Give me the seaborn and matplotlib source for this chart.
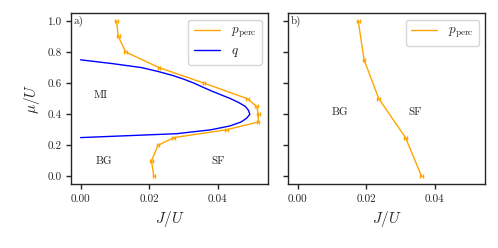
import numpy as np
import matplotlib
matplotlib.use("Agg")
import matplotlib.pyplot as plt
from matplotlib.lines import Line2D
import seaborn as sns

# panel a) percolation threshold and q boundary
mu_perc_a = [0.0, 0.1, 0.2, 0.25, 0.3, 0.35, 0.4, 0.45, 0.5, 0.6, 0.7, 0.8, 0.9, 1.0]
J_perc_a = [0.0214, 0.0207, 0.0226, 0.0272, 0.0425, 0.0518, 0.0519, 0.0514, 0.0487, 0.0360, 0.0229, 0.0132, 0.0110, 0.0105]

mu_q = [0.25, 0.275, 0.30, 0.325, 0.35, 0.375, 0.40, 0.425, 0.45, 0.475, 0.50, 0.525,
        0.55, 0.575, 0.60, 0.625, 0.65, 0.675, 0.70, 0.725, 0.75]
J_q = [0.0, 0.0280, 0.0380, 0.0436, 0.0468, 0.0485, 0.0494, 0.0490, 0.0481, 0.0462, 0.0438, 0.0410,
       0.0382, 0.0356, 0.0331, 0.0302, 0.0268, 0.0226, 0.0178, 0.0095, 0.0]

# panel b)
mu_perc_b = [0.0, 0.25, 0.5, 0.75, 1.0]
J_perc_b = [0.0362, 0.0315, 0.0237, 0.0194, 0.0177]

err = 0.0004

sns.set_style("ticks")
plt.rcParams["font.family"] = "serif"
plt.rcParams["font.serif"] = ["cmr10"]
plt.rcParams["mathtext.fontset"] = "cm"
plt.rcParams["axes.formatter.use_mathtext"] = True
plt.rcParams["axes.unicode_minus"] = False

fig = plt.figure(figsize=(4.98, 2.48), dpi=100)
ax1 = fig.add_axes([0.1432, 0.257, 0.3956, 0.690])
ax2 = fig.add_axes([0.5790, 0.257, 0.3956, 0.690], sharey=ax1)

orange = "#FFA500"
blue = "#0000FF"

ax1.errorbar(J_perc_a, mu_perc_a, xerr=err, color=orange, lw=1, capsize=1.2, elinewidth=0.8)
sns.lineplot(x=J_q, y=mu_q, sort=False, estimator=None, color=blue, lw=1, ax=ax1)
ax2.errorbar(J_perc_b, mu_perc_b, xerr=err, color=orange, lw=1, capsize=1.2, elinewidth=0.8)

h_perc = Line2D([], [], color=orange, lw=1)
h_q = Line2D([], [], color=blue, lw=1)
ax1.legend([h_perc, h_q], [r"$p_\mathrm{perc}$", r"$q$"], loc="upper right", fontsize=9.5,
           handlelength=2.0, borderpad=0.4, labelspacing=0.35, framealpha=0.8, edgecolor="#cccccc")
ax2.legend([h_perc], [r"$p_\mathrm{perc}$"], loc="upper right", fontsize=9.5,
           handlelength=2.0, borderpad=0.4, framealpha=0.8, edgecolor="#cccccc")

for ax, lab in [(ax1, "a)"), (ax2, "b)")]:
    ax.set_xlim(-0.0027, 0.0548)
    ax.set_ylim(-0.05, 1.05)
    ax.set_xticks([0.0, 0.02, 0.04])
    ax.set_xticklabels(["0.00", "0.02", "0.04"])
    ax.tick_params(labelsize=8, width=1, length=3.5)
    ax.set_xlabel(r"$J/U$", fontsize=11)
    ax.text(0.01, 0.985, lab, transform=ax.transAxes, ha="left", va="top", fontsize=8)
    for s in ax.spines.values():
        s.set_linewidth(1.0)

ax1.set_yticks([0.0, 0.2, 0.4, 0.6, 0.8, 1.0])
ax1.set_yticklabels(["0.0", "0.2", "0.4", "0.6", "0.8", "1.0"])
ax1.set_ylabel(r"$\mu/U$", fontsize=11)
plt.setp(ax2.get_yticklabels(), visible=False)

ax1.text(0.0058, 0.52, "MI", fontsize=8, ha="center", va="center")
ax1.text(0.0067, 0.096, "BG", fontsize=8, ha="center", va="center")
ax1.text(0.0400, 0.096, "SF", fontsize=8, ha="center", va="center")
ax2.text(0.0123, 0.41, "BG", fontsize=8, ha="center", va="center")
ax2.text(0.0342, 0.41, "SF", fontsize=8, ha="center", va="center")

fig.savefig("out.png", dpi=100)
